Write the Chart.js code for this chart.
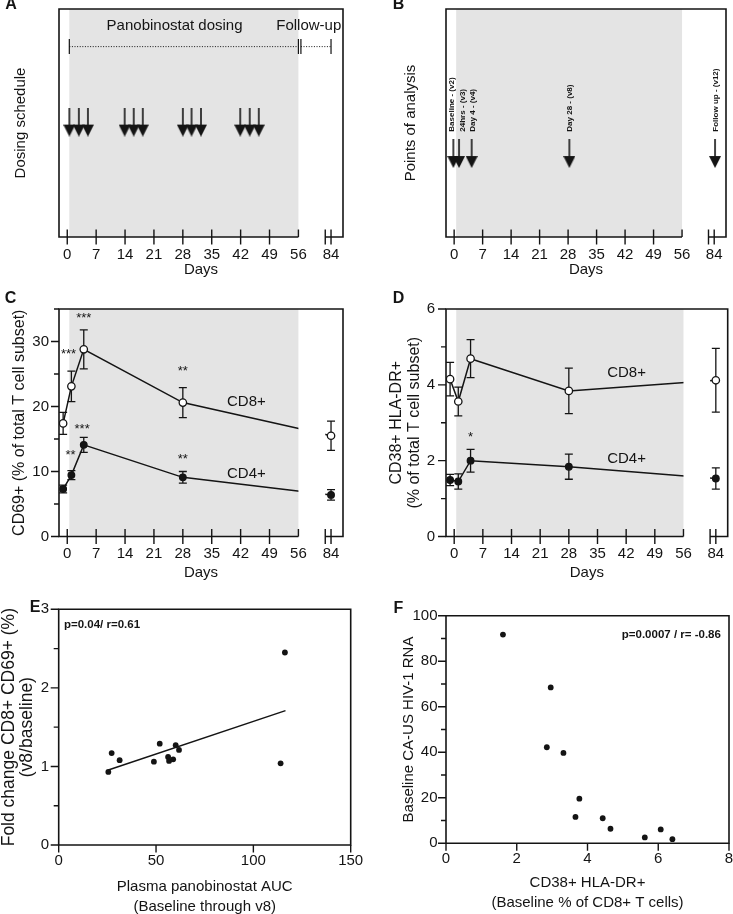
<!DOCTYPE html>
<html>
<head>
<meta charset="utf-8">
<script src="https://cdn.jsdelivr.net/npm/chart.js@4.4.1/dist/chart.umd.min.js"></script>
<style>
  body { margin: 0; background: #fff; overflow: hidden; }
  #fig { position: relative; width: 733px; height: 914px; overflow: hidden; }
  #fig canvas { position: absolute; }
</style>
</head>
<body>
<div id="fig">
  <canvas id="panelA" width="366" height="290" style="left:0;top:0"></canvas>
  <canvas id="panelB" width="367" height="290" style="left:366px;top:0"></canvas>
  <canvas id="panelC" width="366" height="305" style="left:0;top:280px"></canvas>
  <canvas id="panelD" width="367" height="305" style="left:366px;top:280px"></canvas>
  <canvas id="panelE" width="366" height="345" style="left:0;top:580px"></canvas>
  <canvas id="panelF" width="367" height="345" style="left:366px;top:580px"></canvas>
</div>
<script>
// ---- data ----
var dayTicks = [0, 7, 14, 21, 28, 35, 42, 49, 56, 84];
var visitDays = [-1, 1, 4, 28, 84];

// A: dosing days
var dosingDays = [0.5, 2.8, 5.0, 13.9, 16.1, 18.3, 28.0, 30.1, 32.4, 41.9, 44.2, 46.4];

// B: points of analysis
var analysisDays = [-0.2, 1.2, 4.3, 28.3, 84.2];
var analysisLabels = ['Baseline - (v2)', '24hrs - (v3)', 'Day 4 - (v4)', 'Day 28 - (v8)', 'Follow up - (v12)'];
var analysisLabelDays = [-0.5, 2.1, 4.6, 28.3, 84.5];

// C: CD69+
var cd69CD8 = [17.4, 23.1, 28.8, 20.6, 15.5];
var cd69CD8Err = [1.7, 2.35, 3.0, 2.3, 2.25];
var cd69CD4 = [7.3, 9.45, 14.1, 9.1, 6.4];
var cd69CD4Err = [0.6, 0.7, 1.15, 0.9, 0.8];
var cd69Stars = ['***', '***', '**', '***', '**', '**'];
var cd69StarDays = [4, 0.3, 28, 3.6, 0.8, 28];
var cd69StarVals = [34.0, 28.4, 25.8, 17.0, 13.0, 12.3];

// D: CD38+ HLA-DR+
var actCD8 = [4.15, 3.56, 4.69, 3.84, 4.12];
var actCD8Err = [0.44, 0.38, 0.5, 0.6, 0.84];
var actCD4 = [1.49, 1.45, 2.0, 1.84, 1.53];
var actCD4Err = [0.15, 0.2, 0.3, 0.33, 0.28];

// E: AUC vs fold change
var aucX = [25.5, 27.2, 31.3, 48.9, 51.9, 56.2, 56.7, 58.8, 60.1, 61.8, 114, 116.2];
var foldY = [0.93, 1.17, 1.08, 1.06, 1.29, 1.12, 1.07, 1.09, 1.27, 1.21, 1.04, 2.45];
var fitX = [25.5, 116.5];
var fitY = [0.955, 1.71];

// F: CD38+ HLA-DR+ vs CA-US RNA
var cd38X = [1.61, 2.96, 2.85, 3.32, 3.77, 3.66, 4.43, 4.65, 5.62, 6.07, 6.40];
var rnaY = [91.7, 68.5, 42.2, 39.7, 19.6, 11.6, 11.0, 6.4, 2.6, 6.1, 1.8];

var INK = '#141414';
var SHADE = '#e4e4e4';
var FONT = "'Liberation Sans', Arial, Helvetica, sans-serif";

// x axis with a break: days after 56 are shifted left
function xPos(day) { return day > 56 ? day - 20.1 : day; }
function pts(xs, ys) { return xs.map(function (v, i) { return { x: v, y: ys[i] }; }); }

Chart.defaults.font.family = FONT;
Chart.defaults.color = INK;
Chart.defaults.animation = false;
Chart.defaults.responsive = false;
Chart.defaults.devicePixelRatio = 1;
Chart.defaults.events = [];
Chart.defaults.plugins.legend.display = false;
Chart.defaults.plugins.tooltip.enabled = false;

function makeArrow() {
    var c = document.createElement('canvas');
    c.width = 12; c.height = 29;
    var g = c.getContext('2d');
    g.fillStyle = INK;
    g.fillRect(5.2, 0, 1.6, 18);
    g.beginPath();
    g.moveTo(0, 17); g.lineTo(12, 17); g.lineTo(6, 29); g.closePath();
    g.fill();
    return c;
}
var arrowImg = makeArrow();

var panelPlugin = {
    id: 'panel',
    beforeDatasetsDraw: function (chart, args, o) {
        var ctx = chart.ctx, a = chart.chartArea, x = chart.scales.x, y = chart.scales.y;
        ctx.save();
        if (o.shade) {
            var s0 = x.getPixelForValue(o.shade[0]), s1 = x.getPixelForValue(o.shade[1]);
            ctx.fillStyle = SHADE;
            ctx.fillRect(s0, a.top, s1 - s0, a.bottom - a.top);
        }
        ctx.strokeStyle = INK;
        ctx.lineWidth = 1.3;
        (o.errorBars || []).forEach(function (e) {
            e.x.forEach(function (xv, i) {
                var px = x.getPixelForValue(xv);
                var hi = y.getPixelForValue(e.y[i] + e.err[i]);
                var lo = y.getPixelForValue(e.y[i] - e.err[i]);
                ctx.beginPath();
                ctx.moveTo(px, hi); ctx.lineTo(px, lo);
                ctx.moveTo(px - 4, hi); ctx.lineTo(px + 4, hi);
                ctx.moveTo(px - 4, lo); ctx.lineTo(px + 4, lo);
                ctx.stroke();
            });
        });
        ctx.restore();
        if (o.gap) {
            var g0 = x.getPixelForValue(o.gap[0]), g1 = x.getPixelForValue(o.gap[1]);
            ctx.save();
            ctx.beginPath();
            ctx.rect(0, 0, g0, chart.height);
            ctx.rect(g1, 0, chart.width - g1, chart.height);
            ctx.clip();
        }
    },
    afterDatasetsDraw: function (chart, args, o) {
        var ctx = chart.ctx, a = chart.chartArea, x = chart.scales.x, y = chart.scales.y;
        if (o.gap) ctx.restore();
        ctx.save();
        ctx.strokeStyle = INK;
        ctx.lineWidth = 1.6;
        ctx.beginPath();
        var g0, g1;
        if (o.gap) {
            g0 = x.getPixelForValue(o.gap[0]);
            g1 = x.getPixelForValue(o.gap[1]);
            ctx.moveTo(g0, a.bottom); ctx.lineTo(a.left, a.bottom);
            ctx.lineTo(a.left, a.top); ctx.lineTo(a.right, a.top);
            ctx.lineTo(a.right, a.bottom); ctx.lineTo(g1, a.bottom);
        } else {
            ctx.rect(a.left, a.top, a.right - a.left, a.bottom - a.top);
        }
        ctx.stroke();

        // tick marks
        ctx.lineWidth = 1.4;
        ctx.beginPath();
        x.ticks.forEach(function (t) {
            var px = x.getPixelForValue(t.value);
            var up = o.gap ? 7.5 : 0;
            var down = o.gap && t.value === o.gap[0] ? 0 : 7.5;
            ctx.moveTo(px, a.bottom - up); ctx.lineTo(px, a.bottom + down);
        });
        if (o.gap) { ctx.moveTo(g1, a.bottom - 7.5); ctx.lineTo(g1, a.bottom + 7.5); }
        if (o.yTicks) {
            y.ticks.forEach(function (t) {
                var py = y.getPixelForValue(t.value);
                var len = t.label === '' ? 5 : 8;
                ctx.moveTo(a.left - len, py); ctx.lineTo(a.left, py);
            });
        }
        ctx.stroke();

        if (o.bracket) {
            var b = o.bracket, by = y.getPixelForValue(b.level);
            var p0 = x.getPixelForValue(b.from), p1 = x.getPixelForValue(b.mid), p2 = x.getPixelForValue(b.to);
            ctx.lineWidth = 1.2;
            ctx.beginPath();
            [p0, p1, p1 + 2.5, p2].forEach(function (p) { ctx.moveTo(p, by - 7.5); ctx.lineTo(p, by + 7.5); });
            ctx.stroke();
            ctx.setLineDash([1, 1.6]);
            ctx.lineWidth = 1;
            ctx.beginPath();
            ctx.moveTo(p0, by); ctx.lineTo(p1, by);
            ctx.moveTo(p1 + 2.5, by); ctx.lineTo(p2, by);
            ctx.stroke();
            ctx.setLineDash([]);
        }

        ctx.fillStyle = INK;
        (o.labels || []).forEach(function (l) {
            ctx.save();
            ctx.font = l.font;
            ctx.textAlign = l.align || 'center';
            ctx.textBaseline = 'middle';
            ctx.translate(x.getPixelForValue(l.x), y.getPixelForValue(l.y) + (l.dy || 0));
            if (l.rotate) ctx.rotate(l.rotate);
            ctx.fillText(l.text, 0, 0);
            ctx.restore();
        });

        if (o.letter) {
            ctx.font = 'bold 16px ' + FONT;
            ctx.textAlign = 'center';
            ctx.textBaseline = 'middle';
            ctx.fillText(o.letter[0], o.letter[1], o.letter[2]);
        }
        ctx.restore();
    }
};

function yAxis(width, o) {
    return {
        type: 'linear', min: o.min, max: o.max,
        grid: { display: false, drawTicks: false },
        border: { display: false },
        ticks: {
            display: !!o.step, stepSize: o.step, autoSkip: false, padding: o.pad || 10,
            font: { size: 15 }, color: INK,
            callback: function (v) {
                if (!o.every) return v;
                var r = v / o.every;
                return Math.abs(r - Math.round(r)) < 1e-6 ? v : '';
            }
        },
        title: {
            display: true, text: o.title, color: INK,
            font: { size: o.titleSize || 15, lineHeight: o.lh || 1.2 },
            padding: { top: o.titlePad, bottom: 0 }
        },
        afterFit: function (s) { s.width = width; s.paddingTop = 0; s.paddingBottom = 0; }
    };
}

function dayAxis(height, titlePad) {
    return {
        type: 'linear', min: -2, max: 66.8,
        grid: { display: false, drawTicks: false },
        border: { display: false },
        afterBuildTicks: function (s) {
            s.ticks = dayTicks.map(function (d) { return { value: xPos(d) }; });
        },
        ticks: {
            autoSkip: false, maxRotation: 0, padding: 8.5, font: { size: 15 }, color: INK,
            callback: function (v, i) { return dayTicks[i]; }
        },
        title: { display: true, text: 'Days', color: INK, font: { size: 15 }, padding: { top: 0, bottom: titlePad } },
        afterFit: function (s) { s.height = height; s.paddingLeft = 0; s.paddingRight = 0; }
    };
}

function plainXAxis(height, o) {
    return {
        type: 'linear', min: o.min, max: o.max,
        grid: { display: false, drawTicks: false },
        border: { display: false },
        ticks: { stepSize: o.step, autoSkip: false, maxRotation: 0, padding: 6.5, font: { size: 15 }, color: INK },
        title: {
            display: true, text: o.title, color: INK,
            font: { size: 15, lineHeight: 1.35 }, padding: { top: 0, bottom: o.titlePad }
        },
        afterFit: function (s) { s.height = height; s.paddingLeft = 0; s.paddingRight = 0; }
    };
}

function lineSet(days, vals, open) {
    return {
        type: 'line',
        data: pts(days.map(xPos), vals),
        borderColor: INK, borderWidth: 1.5, tension: 0,
        pointStyle: 'circle', pointRadius: open ? 3.7 : 3.3,
        pointBorderWidth: 1.3, pointBorderColor: INK,
        pointBackgroundColor: open ? '#ffffff' : INK
    };
}

function dotSet(xs, ys) {
    return {
        type: 'scatter', data: pts(xs, ys),
        pointRadius: 2.9, pointBackgroundColor: INK, pointBorderColor: INK, pointBorderWidth: 0
    };
}

// ---- A: dosing schedule ----
new Chart(document.getElementById('panelA'), {
    type: 'scatter',
    data: { datasets: [{
        data: dosingDays.map(function (d) { return { x: xPos(d), y: 0.504 }; }),
        pointStyle: arrowImg, pointRadius: 6
    }] },
    options: {
        layout: { padding: { top: 9, right: 23, left: 0, bottom: 0 } },
        scales: {
            x: dayAxis(53, 11),
            y: yAxis(59, { min: 0, max: 1, title: 'Dosing schedule', titlePad: 11.7 })
        },
        plugins: { panel: {
            shade: [0.5, 56], gap: [56, 62.5], letter: ['A', 11, 5],
            bracket: { from: 0.5, mid: 56, to: xPos(84), level: 0.835 },
            labels: [
                { text: 'Panobinostat dosing', x: 26, y: 0.925, font: '15px ' + FONT },
                { text: 'Follow-up', x: 58.5, y: 0.925, font: '15px ' + FONT }
            ]
        } }
    },
    plugins: [panelPlugin]
});

// ---- B: points of analysis ----
new Chart(document.getElementById('panelB'), {
    type: 'scatter',
    data: { datasets: [{
        data: analysisDays.map(function (d) { return { x: xPos(d), y: 0.366 }; }),
        pointStyle: arrowImg, pointRadius: 6
    }] },
    options: {
        layout: { padding: { top: 9, right: 4.3, left: 0, bottom: 0 } },
        scales: {
            x: dayAxis(53, 11),
            y: yAxis(80, { min: 0, max: 1, title: 'Points of analysis', titlePad: 36 })
        },
        plugins: { panel: {
            shade: [0.5, 56], gap: [56, 62.5], letter: ['B', 32.5, 5],
            labels: analysisLabels.map(function (t, i) {
                return { text: t, x: xPos(analysisLabelDays[i]), y: 0.462, font: 'bold 8px ' + FONT,
                         align: 'left', rotate: -Math.PI / 2 };
            })
        } }
    },
    plugins: [panelPlugin]
});

// ---- C: CD69+ ----
new Chart(document.getElementById('panelC'), {
    type: 'line',
    data: { datasets: [lineSet(visitDays, cd69CD8, true), lineSet(visitDays, cd69CD4, false)] },
    options: {
        layout: { padding: { top: 29, right: 23, left: 0, bottom: 0 } },
        scales: {
            x: dayAxis(48.5, 3),
            y: yAxis(59, { min: 0, max: 35, step: 5, every: 10, pad: 10, titleSize: 16,
                           title: 'CD69+ (% of total T cell subset)', titlePad: 10.4 })
        },
        plugins: { panel: {
            shade: [0.5, 56], gap: [56, 62.5], yTicks: true, letter: ['C', 10.5, 19],
            errorBars: [
                { x: visitDays.map(xPos), y: cd69CD8, err: cd69CD8Err },
                { x: visitDays.map(xPos), y: cd69CD4, err: cd69CD4Err }
            ],
            labels: [
                { text: 'CD8+', x: 43.4, y: 20.7, font: '15px ' + FONT },
                { text: 'CD4+', x: 43.4, y: 9.6, font: '15px ' + FONT }
            ].concat(cd69Stars.map(function (s, i) {
                return { text: s, x: cd69StarDays[i], y: cd69StarVals[i], dy: 3, font: '13px ' + FONT };
            }))
        } }
    },
    plugins: [panelPlugin]
});

// ---- D: CD38+ HLA-DR+ ----
new Chart(document.getElementById('panelD'), {
    type: 'line',
    data: { datasets: [lineSet(visitDays, actCD8, true), lineSet(visitDays, actCD4, false)] },
    options: {
        layout: { padding: { top: 29, right: 4.3, left: 0, bottom: 0 } },
        scales: {
            x: dayAxis(48.5, 3),
            y: yAxis(80, { min: 0, max: 6, step: 1, every: 2, pad: 11, titleSize: 16, lh: 1.1,
                           title: ['CD38+ HLA-DR+', '(% of total T cell subset)'], titlePad: 22 })
        },
        plugins: { panel: {
            shade: [0.5, 56], gap: [56, 62.5], yTicks: true, letter: ['D', 32.5, 19],
            errorBars: [
                { x: visitDays.map(xPos), y: actCD8, err: actCD8Err },
                { x: visitDays.map(xPos), y: actCD4, err: actCD4Err }
            ],
            labels: [
                { text: 'CD8+', x: 42.1, y: 4.31, font: '15px ' + FONT },
                { text: 'CD4+', x: 42.1, y: 2.04, font: '15px ' + FONT },
                { text: '*', x: 4, y: 2.7, dy: 3, font: '13px ' + FONT }
            ]
        } }
    },
    plugins: [panelPlugin]
});

// ---- E: AUC vs fold change ----
var fitLine = {
    type: 'line', data: pts(fitX, fitY),
    borderColor: INK, borderWidth: 1.5, pointRadius: 0, tension: 0
};
new Chart(document.getElementById('panelE'), {
    type: 'scatter',
    data: { datasets: [fitLine, dotSet(aucX, foldY)] },
    options: {
        layout: { padding: { top: 29.3, right: 15.3, left: 0, bottom: 0 } },
        scales: {
            x: plainXAxis(80, { min: 0, max: 150, step: 50, titlePad: 8,
                                title: ['Plasma panobinostat AUC', '(Baseline through v8)'] }),
            y: yAxis(58.7, { min: 0, max: 3, step: 0.5, every: 1, pad: 9.5, titleSize: 17.5, lh: 1.05,
                             title: ['Fold change CD8+ CD69+ (%)', '(v8/baseline)'], titlePad: 0 })
        },
        plugins: { panel: {
            yTicks: true, letter: ['E', 35, 28],
            labels: [{ text: 'p=0.04/ r=0.61', x: 2.7, y: 2.8, align: 'left', font: 'bold 11.5px ' + FONT }]
        } }
    },
    plugins: [panelPlugin]
});

// ---- F: CD38+ HLA-DR+ vs CA-US HIV-1 RNA ----
new Chart(document.getElementById('panelF'), {
    type: 'scatter',
    data: { datasets: [dotSet(cd38X, rnaY)] },
    options: {
        layout: { padding: { top: 35.7, right: 3.7, left: 0, bottom: 0 } },
        scales: {
            x: plainXAxis(81.7, { min: 0, max: 8, step: 2, titlePad: 11.6,
                                  title: ['CD38+ HLA-DR+', '(Baseline % of CD8+ T cells)'] }),
            y: yAxis(80, { min: 0, max: 100, step: 10, every: 20, pad: 8.5,
                           title: 'Baseline CA-US HIV-1 RNA', titlePad: 34.3 })
        },
        plugins: { panel: {
            yTicks: true, letter: ['F', 32.5, 29],
            labels: [{ text: 'p=0.0007 / r= -0.86', x: 7.77, y: 91.5, align: 'right', font: 'bold 11.5px ' + FONT }]
        } }
    },
    plugins: [panelPlugin]
});
</script>
</body>
</html>
